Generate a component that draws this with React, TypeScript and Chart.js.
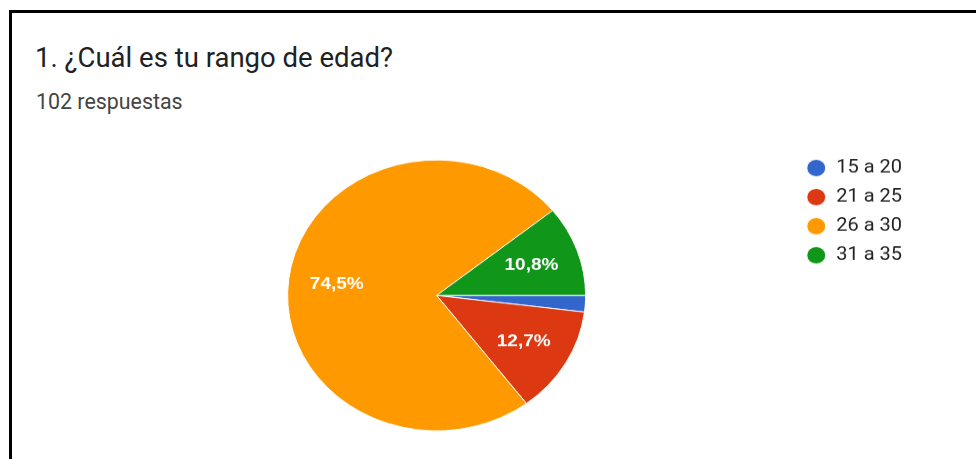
import React, { useEffect, useRef } from "react";
import { Chart, registerables } from "chart.js";

Chart.register(...registerables);

const categories = ["15 a 20", "21 a 25", "26 a 30", "31 a 35"];
const responses = [2, 13, 76, 11];
const sliceColors = ["#3366cc", "#dc3912", "#ff9900", "#109618"];
const questionTitle = "1. ¿Cuál es tu rango de edad?";
const responseCount = "102 respuestas";

const SCALE_Y = 0.909;

const pctLabels = {
  id: "pctLabels",
  afterDatasetsDraw(chart: any) {
    const { ctx } = chart;
    const meta = chart.getDatasetMeta(0);
    const data = chart.data.datasets[0].data as number[];
    const total = data.reduce((a, b) => a + b, 0);
    ctx.save();
    ctx.fillStyle = "#ffffff";
    ctx.font = "bold 19px 'Liberation Sans', Arial, sans-serif";
    ctx.textAlign = "center";
    ctx.textBaseline = "middle";
    meta.data.forEach((el: any, i: number) => {
      const frac = data[i] / total;
      if (frac < 0.05) return;
      const { x, y, startAngle, endAngle, outerRadius } = el.getProps(
        ["x", "y", "startAngle", "endAngle", "outerRadius"],
        true
      );
      const mid = (startAngle + endAngle) / 2;
      const r = outerRadius * 0.675;
      const txt = (frac * 100).toFixed(1).replace(".", ",") + "%";
      ctx.fillText(txt, x + Math.cos(mid) * r, y + Math.sin(mid) * r);
    });
    ctx.restore();
  },
};

export default function App() {
  const canvasRef = useRef<HTMLCanvasElement | null>(null);

  useEffect(() => {
    if (!canvasRef.current) return;
    const chart = new Chart(canvasRef.current, {
      type: "pie",
      data: {
        labels: categories,
        datasets: [
          {
            data: responses,
            backgroundColor: sliceColors,
            borderColor: "#ffffff",
            borderWidth: 1,
            radius: 149,
          } as any,
        ],
      },
      options: {
        responsive: true,
        maintainAspectRatio: false,
        animation: false,
        rotation: 90,
        layout: { padding: { left: 79, right: 64, top: 0, bottom: 0 } },
        plugins: {
          legend: {
            position: "right",
            align: "start",
            labels: {
              usePointStyle: true,
              pointStyle: "circle",
              boxWidth: 20,
              boxHeight: 13.4,
              padding: 12,
              color: "#222222",
              font: { family: "Roboto", size: 20 },
            },
          },
          tooltip: { enabled: false },
        },
      } as any,
      plugins: [pctLabels],
    });
    return () => chart.destroy();
  }, []);

  return (
    <div
      style={{
        position: "fixed",
        left: 0,
        top: 0,
        width: 976,
        height: 459,
        overflow: "hidden",
        background: "#ffffff",
      }}
    >
      <div
        style={{
          position: "absolute",
          left: 9,
          top: 10,
          width: 967,
          height: 449,
          boxSizing: "border-box",
          borderLeft: "3px solid #000",
          borderTop: "3px solid #000",
        }}
      />
      <div
        style={{
          position: "absolute",
          left: 35,
          top: 44,
          font: "27.5px Roboto, sans-serif",
          lineHeight: "27.5px",
          color: "#202124",
          whiteSpace: "nowrap",
        }}
      >
        {questionTitle}
      </div>
      <div
        style={{
          position: "absolute",
          left: 36,
          top: 91,
          font: "21.4px Roboto, sans-serif",
          lineHeight: "21.4px",
          color: "#444444",
          whiteSpace: "nowrap",
        }}
      >
        {responseCount}
      </div>
      <div
        style={{
          position: "absolute",
          left: 0,
          top: 148,
          width: 976,
          height: 324.3,
          transform: `scaleY(${SCALE_Y})`,
          transformOrigin: "top left",
        }}
      >
        <canvas ref={canvasRef} style={{ display: "block" }} />
      </div>
    </div>
  );
}
